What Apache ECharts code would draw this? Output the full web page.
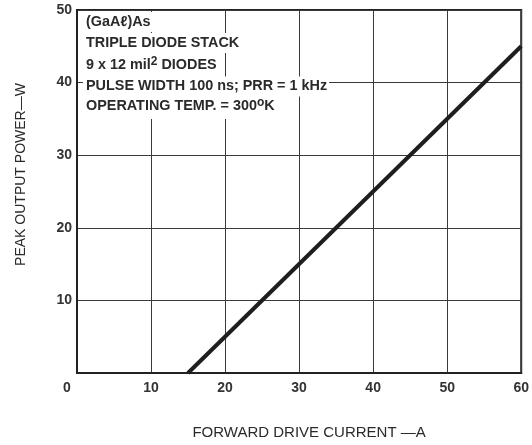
<!DOCTYPE html>
<html><head><meta charset="utf-8">
<script src="https://cdn.jsdelivr.net/npm/echarts@6/dist/echarts.min.js"></script>
<style>html,body{margin:0;padding:0;background:#fff}#c{width:532px;height:445px}</style>
</head><body><div id="c"></div>
<script>
const currentA = [15, 60];
const powerW = [0, 45];
const xTicks = [0, 10, 20, 30, 40, 50, 60];
const yTicks = [0, 10, 20, 30, 40, 50];
const notes = [
  '(GaA\u2113)As',
  'TRIPLE DIODE STACK',
  '9 x 12 mil{s|2} DIODES',
  'PULSE WIDTH 100 ns; PRR = 1 kHz',
  'OPERATING TEMP. = 300{s|o}K'
];
const noteCenters = [22, 43, 65.5, 86.5, 106.5];
const FONT = '"Liberation Sans", Arial, sans-serif';
const chart = echarts.init(document.getElementById('c'));
const textColor = '#2a2a2a';
chart.setOption({
  animation: false,
  backgroundColor: '#fff',
  grid: {left: 77, right: 10, top: 10, bottom: 68, show: true, borderColor: '#222', borderWidth: 2},
  xAxis: {
    type: 'value', min: xTicks[0], max: xTicks[xTicks.length-1], interval: 10,
    name: 'FORWARD DRIVE CURRENT \u2014A', nameLocation: 'middle', nameGap: 52,
    nameTextStyle: {fontFamily: FONT, fontSize: 15, color: textColor, padding: [0, 0, 0, 20]},
    axisLine: {show: true, lineStyle: {color: '#222', width: 2}},
    axisTick: {show: false},
    axisLabel: {margin: 8, fontFamily: FONT, fontSize: 14, fontWeight: 'bold', color: '#333',
      formatter: v => v === 0 ? '{z|0}' : String(v),
      rich: {z: {fontFamily: FONT, fontSize: 14, fontWeight: 'bold', color: '#333', padding: [0, 20, 0, 0]}}},
    splitLine: {show: true, lineStyle: {color: '#3a3a3a', width: 1}}
  },
  yAxis: {
    type: 'value', min: yTicks[0], max: yTicks[yTicks.length-1], interval: 10,
    name: 'PEAK OUTPUT POWER\u2014W', nameLocation: 'middle', nameGap: 49,
    nameTextStyle: {fontFamily: FONT, fontSize: 14, color: textColor, padding: [0, 0, 0, 34]},
    axisLine: {show: true, lineStyle: {color: '#222', width: 2}},
    axisTick: {show: false},
    axisLabel: {margin: 5, showMinLabel: false, fontFamily: FONT, fontSize: 14, fontWeight: 'bold', color: '#333'},
    splitLine: {show: true, lineStyle: {color: '#3a3a3a', width: 1}}
  },
  series: [{
    type: 'line', data: currentA.map((x, i) => [x, powerW[i]]),
    showSymbol: false, lineStyle: {color: '#1e1e1e', width: 4}, z: 3
  }],
  graphic: notes.map((t, i) => ({
    type: 'text', x: 83, y: noteCenters[i], z: 100,
    style: {
      text: t, fontFamily: FONT, fontSize: 14.4, fontWeight: 'bold', fill: textColor,
      align: 'left', verticalAlign: 'middle',
      backgroundColor: '#fff', padding: [3, 2, 3, 3],
      rich: {s: {fontFamily: FONT, fontSize: 12, fontWeight: 'bold', fill: textColor, verticalAlign: 'top', padding: [0, 0, 7, 0]}}
    }
  }))
});
</script></body></html>
